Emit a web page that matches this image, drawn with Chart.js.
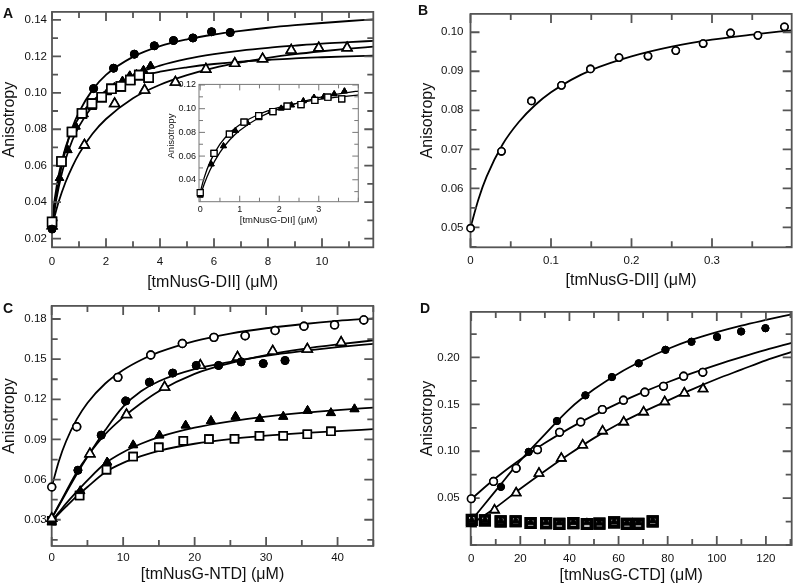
<!DOCTYPE html>
<html>
<head>
<meta charset="utf-8">
<script src="https://cdn.jsdelivr.net/npm/chart.js@4.4.1/dist/chart.umd.min.js"></script>
<style>
  body { margin: 0; background: #fff; }
  #fig { position: relative; width: 796px; height: 588px; background: #fff; overflow: hidden; }
  #fig canvas { position: absolute; }
  .tag { position: absolute; font: bold 14px "Liberation Sans", Arial, sans-serif; line-height: 14px; color: #111; }
</style>
</head>
<body>
<div id="fig">
  <canvas id="cA" width="398" height="294" style="left:0;top:0"></canvas>
  <canvas id="cB" width="398" height="294" style="left:398px;top:0"></canvas>
  <canvas id="cC" width="398" height="294" style="left:0;top:294px"></canvas>
  <canvas id="cD" width="398" height="294" style="left:398px;top:294px"></canvas>
  <canvas id="cIn" width="215" height="160" style="left:150px;top:76px"></canvas>
  <div class="tag" style="left:3px;top:6px">A</div>
  <div class="tag" style="left:418px;top:3px">B</div>
  <div class="tag" style="left:3px;top:301px">C</div>
  <div class="tag" style="left:420px;top:301px">D</div>
</div>
<script>
// ---- panel A (and inset) ----
var aCircX = [0, 1.54, 2.28, 3.05, 3.79, 4.5, 5.22, 5.91, 6.6];
var aCircY = [0.0252, 0.1023, 0.1135, 0.1212, 0.1258, 0.1287, 0.1301, 0.1335, 0.1331];
var aTriX = [0, 0.28, 0.59, 0.89, 1.19, 1.49, 1.79, 2.05, 2.31, 2.61, 2.88, 3.13, 3.39, 3.65];
var aTriY = [0.0268, 0.0532, 0.0685, 0.0814, 0.0882, 0.0922, 0.0976, 0.1003, 0.1030, 0.1065, 0.1094, 0.1102, 0.1124, 0.1148];
var aSqX = [0, 0.35, 0.74, 1.11, 1.48, 1.84, 2.2, 2.55, 2.9, 3.23, 3.58];
var aSqY = [0.0292, 0.0623, 0.0785, 0.0887, 0.0941, 0.0976, 0.1022, 0.1035, 0.1070, 0.1097, 0.1083];
var aOTriX = [0, 1.2, 2.32, 3.43, 4.57, 5.7, 6.77, 7.8, 8.86, 9.88, 10.93];
var aOTriY = [0.027, 0.0713, 0.094, 0.1014, 0.1058, 0.1129, 0.1161, 0.1186, 0.1234, 0.1246, 0.1246];
var aFitX = [0, 0.1, 0.25, 0.5, 0.75, 1, 1.5, 2, 3, 4, 5, 6, 7, 8, 9, 10, 11, 11.9];
var aCircFit = [0.025, 0.037, 0.0518, 0.0686, 0.0808, 0.0894, 0.1016, 0.1098, 0.1197, 0.1256, 0.1293, 0.1320, 0.1340, 0.1357, 0.1371, 0.1383, 0.1394, 0.1403];
var aTriFit = [0.026, 0.0362, 0.0483, 0.0632, 0.0738, 0.0816, 0.0926, 0.0998, 0.1094, 0.1149, 0.1186, 0.1212, 0.1232, 0.1247, 0.1259, 0.1270, 0.1278, 0.1285];
var aSqFit = [0.0294, 0.0416, 0.0551, 0.0700, 0.0797, 0.0865, 0.0955, 0.1011, 0.1078, 0.1116, 0.1140, 0.1158, 0.1171, 0.1180, 0.1189, 0.1195, 0.1200, 0.1204];
var aOTriFit = [0.027, 0.0324, 0.0403, 0.0509, 0.0594, 0.0665, 0.0775, 0.0856, 0.0970, 0.1044, 0.1097, 0.1137, 0.1167, 0.1192, 0.1212, 0.1228, 0.1242, 0.1253];
var aXTicks = [0, 2, 4, 6, 8, 10];
var aYTicks = [0.02, 0.04, 0.06, 0.08, 0.10, 0.12, 0.14];
var inXTicks = [0, 1, 2, 3];
var inYTicks = [0.04, 0.06, 0.08, 0.10, 0.12];

// ---- panel B ----
var bX = [0, 0.0385, 0.0757, 0.113, 0.149, 0.1845, 0.2205, 0.255, 0.289, 0.323, 0.357, 0.390];
var bY = [0.0498, 0.0695, 0.0824, 0.0864, 0.0906, 0.0935, 0.0939, 0.0953, 0.0971, 0.0998, 0.0992, 0.1014];
var bFitX = [0, 0.01, 0.02, 0.04, 0.06, 0.08, 0.1, 0.125, 0.15, 0.2, 0.25, 0.3, 0.35, 0.399];
var bFitY = [0.050, 0.0573, 0.0630, 0.0713, 0.0770, 0.0813, 0.0846, 0.0878, 0.0903, 0.0938, 0.0963, 0.0981, 0.0994, 0.1005];
var bXTicks = [0, 0.1, 0.2, 0.3];
var bYTicks = [0.05, 0.06, 0.07, 0.08, 0.09, 0.10];

// ---- panel C ----
var cOCircX = [0, 3.5, 9.26, 13.86, 18.28, 22.7, 27.07, 31.26, 35.3, 39.58, 43.67];
var cOCircY = [0.0545, 0.0995, 0.1364, 0.1531, 0.1617, 0.1663, 0.1675, 0.1714, 0.1746, 0.1756, 0.1793];
var cFCircX = [3.67, 6.93, 10.37, 13.67, 16.93, 20.23, 23.35, 26.5, 29.6, 32.65];
var cFCircY = [0.067, 0.0932, 0.1188, 0.1328, 0.1396, 0.1453, 0.1453, 0.148, 0.1467, 0.149];
var cOTriX = [0, 5.35, 10.47, 15.8, 20.8, 26, 30.93, 35.77, 40.5];
var cOTriY = [0.031, 0.0792, 0.1085, 0.1291, 0.1453, 0.1514, 0.156, 0.1575, 0.1624];
var cFTriX = [0, 4.0, 7.77, 11.4, 15.07, 18.74, 22.28, 25.72, 29.1, 32.4, 35.8, 39.07, 42.37];
var cFTriY = [0.0285, 0.0515, 0.073, 0.0858, 0.0931, 0.1005, 0.1039, 0.1071, 0.1054, 0.1071, 0.1115, 0.1098, 0.1127];
var cSqX = [0, 3.9, 7.67, 11.4, 14.98, 18.42, 22.0, 25.58, 29.07, 32.4, 35.77, 39.07];
var cSqY = [0.0292, 0.0481, 0.0674, 0.0772, 0.0841, 0.089, 0.0903, 0.0905, 0.0927, 0.0927, 0.0939, 0.0961];
var cFitX = [0, 1, 2, 3.5, 5, 7.5, 10, 12.5, 15, 20, 25, 30, 35, 40, 45];
var cOCircFit = [0.0545, 0.0738, 0.0885, 0.1050, 0.1173, 0.1318, 0.1419, 0.1494, 0.1552, 0.1635, 0.1691, 0.1731, 0.1761, 0.1786, 0.1805];
var cFCircFit = [0.031, 0.0405, 0.050, 0.064, 0.077, 0.097, 0.1145, 0.126, 0.1335, 0.1425, 0.148, 0.1525, 0.156, 0.159, 0.1615];
var cOTriFit = [0.031, 0.041, 0.051, 0.0655, 0.0775, 0.094, 0.1065, 0.117, 0.126, 0.139, 0.147, 0.153, 0.1575, 0.161, 0.164];
var cFTriFit = [0.029, 0.0355, 0.042, 0.051, 0.0595, 0.0722, 0.0805, 0.0868, 0.0918, 0.0988, 0.1035, 0.107, 0.1098, 0.112, 0.1138];
var cSqFit = [0.029, 0.0345, 0.0398, 0.0475, 0.0545, 0.0655, 0.0725, 0.0775, 0.0815, 0.0868, 0.0903, 0.0928, 0.0947, 0.0963, 0.0977];
var cXTicks = [0, 10, 20, 30, 40];
var cYTicks = [0.03, 0.06, 0.09, 0.12, 0.15, 0.18];

// ---- panel D ----
var dFCircX = [12.1, 23.4, 34.9, 46.5, 57.3, 68.2, 79.1, 89.7, 100.1, 109.9, 119.8];
var dFCircY = [0.062, 0.0993, 0.1322, 0.1596, 0.1791, 0.1938, 0.2082, 0.2168, 0.2219, 0.2277, 0.2312];
var dOCircX = [0, 9.1, 18.3, 27, 36, 44.6, 53.4, 62, 70.7, 78.3, 86.5, 94.3];
var dOCircY = [0.0493, 0.0678, 0.0818, 0.1017, 0.1202, 0.1312, 0.1445, 0.1545, 0.163, 0.1692, 0.1801, 0.1842];
var dOTriX = [0, 9.5, 18.3, 27.6, 36.7, 45.4, 53.5, 62.1, 70.2, 78.8, 86.8, 94.4];
var dOTriY = [0.0226, 0.0373, 0.0555, 0.0764, 0.0925, 0.1065, 0.1216, 0.1312, 0.1418, 0.1527, 0.162, 0.1664];
var dSqX = [0.2, 5.6, 12, 18.1, 24.2, 30.5, 35.9, 41.6, 47.1, 52.2, 58.2, 63.4, 68.1, 73.9];
var dSqY = [0.0268, 0.0262, 0.0252, 0.0253, 0.0235, 0.0233, 0.0226, 0.0233, 0.0224, 0.0228, 0.0241, 0.0226, 0.0225, 0.0252];
var dFTriY = [0.0262, 0.0265, 0.0255, 0.0256, 0.0240, 0.0240, 0.0238, 0.0242, 0.0240, 0.0236, 0.0247, 0.0236, 0.0238, 0.0258];
var dFitX = [0, 10, 20, 30, 40, 50, 60, 70, 80, 90, 100, 110, 120, 130.5];
var dFCircFit = [0.026, 0.058, 0.090, 0.118, 0.145, 0.166, 0.183, 0.197, 0.209, 0.219, 0.227, 0.234, 0.240, 0.246];
var dOCircFit = [0.049, 0.0714, 0.0911, 0.1087, 0.1244, 0.1385, 0.1513, 0.1630, 0.1736, 0.1833, 0.1922, 0.2004, 0.2081, 0.2155];
var dOTriFit = [0.022, 0.040, 0.060, 0.079, 0.097, 0.114, 0.129, 0.142, 0.154, 0.166, 0.177, 0.187, 0.197, 0.206];
var dXTicks = [0, 20, 40, 60, 80, 100, 120];
var dYTicks = [0.05, 0.10, 0.15, 0.20];

var FONT = '"Liberation Sans", Arial, Helvetica, sans-serif';
var INK = '#111';

function pts(xs, ys) {
  return xs.map(function(x, i) { return { x: x, y: ys[i] }; });
}

// marker datasets (drawn on top of the fitted curves)
function marks(xs, ys, style, r, bw) {
  var filled = style === 'fcirc' || style === 'ftri';
  return {
    data: pts(xs, ys),
    showLine: false,
    order: 0,
    pointStyle: style.indexOf('circ') >= 0 ? 'circle' : (style.indexOf('tri') >= 0 ? 'triangle' : 'rect'),
    pointRadius: r,
    pointHoverRadius: r,
    pointBackgroundColor: filled ? '#000' : '#fff',
    pointBorderColor: '#000',
    pointBorderWidth: bw || 1.6
  };
}

function fit(xs, ys, w) {
  return {
    data: pts(xs, ys),
    showLine: true,
    order: 1,
    pointRadius: 0,
    borderColor: '#000',
    borderWidth: w || 1.8,
    cubicInterpolationMode: 'monotone'
  };
}

// box frame with inward ticks on all four sides; markers are re-drawn over it
function makeFrame(o) {
  function paint(chart) {
    var a = chart.chartArea, c = chart.ctx;
    var sx = chart.scales.x, sy = chart.scales.y;
    c.save();
    c.strokeStyle = o.color;
    c.lineWidth = o.width;
    c.beginPath();
    function walk(s, step, vals, fn) {
      var n0 = Math.ceil(s.min / step - 1e-6), n1 = Math.floor(s.max / step + 1e-6);
      for (var n = n0; n <= n1; n++) {
        var v = n * step;
        var major = vals.some(function(t) { return Math.abs(t - v) < step / 10; });
        fn(s.getPixelForValue(v), major ? o.major : o.minor);
      }
    }
    walk(sx, o.xStep, o.xTicks, function(p, len) {
      c.moveTo(p, a.bottom); c.lineTo(p, a.bottom - len);
      c.moveTo(p, a.top); c.lineTo(p, a.top + len);
    });
    walk(sy, o.yStep, o.yTicks, function(p, len) {
      c.moveTo(a.left, p); c.lineTo(a.left + len, p);
      c.moveTo(a.right, p); c.lineTo(a.right - len, p);
    });
    c.stroke();
    c.strokeRect(a.left, a.top, a.right - a.left, a.bottom - a.top);
    c.restore();
  }
  return {
    id: 'boxframe',
    beforeDraw: function(chart) {
      var a = chart.chartArea, c = chart.ctx;
      c.save();
      c.fillStyle = '#fff';
      c.fillRect(a.left, a.top, a.right - a.left, a.bottom - a.top);
      c.restore();
    },
    afterDraw: function(chart) {
      paint(chart);
      // same stacking as Chart.js: last dataset first, first dataset on top
      for (var i = chart.data.datasets.length - 1; i >= 0; i--) {
        if (chart.data.datasets[i].showLine === false) chart.getDatasetMeta(i).controller.draw();
      }
    }
  };
}

function makeChart(id, p) {
  var fr = makeFrame({
    color: p.frameColor || '#555', width: p.frameWidth || 1.8,
    major: p.major || 9, minor: p.minor || 6,
    xStep: p.xStep, yStep: p.yStep, xTicks: p.xTicks, yTicks: p.yTicks
  });
  return new Chart(document.getElementById(id), {
    type: 'scatter',
    data: { datasets: p.datasets },
    plugins: [fr],
    options: {
      responsive: false,
      animation: false,
      devicePixelRatio: 1,
      events: [],
      layout: { autoPadding: false, padding: { top: p.top, right: p.right, bottom: 0, left: 0 } },
      plugins: {
        legend: { display: false },
        tooltip: { enabled: false }
      },
      scales: {
        x: {
          type: 'linear',
          min: p.xMin, max: p.xMax,
          grid: { display: false, drawTicks: false },
          border: { display: false },
          afterBuildTicks: function(s) { s.ticks = p.xTicks.map(function(v) { return { value: v }; }); },
          afterFit: function(s) { s.height = p.xH; },
          ticks: {
            autoSkip: false, maxRotation: 0, padding: p.xPad, color: INK,
            font: { family: FONT, size: p.tickSize },
            callback: function(v) { return p.xFmt(v); }
          },
          title: {
            display: true, text: p.xTitle, color: INK,
            font: { family: FONT, size: p.titleSize },
            padding: { top: 0, bottom: p.xTitlePad }
          }
        },
        y: {
          type: 'linear',
          min: p.yMin, max: p.yMax,
          grid: { display: false, drawTicks: false },
          border: { display: false },
          afterBuildTicks: function(s) { s.ticks = p.yTicks.map(function(v) { return { value: v }; }); },
          afterFit: function(s) {
            s.width = p.yW;
            if (!s._shifted) {
              var orig = s.drawTitle;
              s.drawTitle = function() {
                this.ctx.save();
                this.ctx.translate(0, -p.yShift);
                orig.apply(this, arguments);
                this.ctx.restore();
              };
              s._shifted = true;
            }
          },
          ticks: {
            autoSkip: false, padding: p.yPad, color: INK,
            font: { family: FONT, size: p.tickSize },
            callback: function(v) { return v.toFixed(2); }
          },
          title: {
            display: true, text: 'Anisotropy', color: INK,
            font: { family: FONT, size: p.titleSize },
            padding: { top: p.yTitlePad, bottom: 0 }
          }
        }
      }
    }
  });
}

function intFmt(v) { return String(Math.round(v)); }

makeChart('cA', {
  datasets: [
    marks(aCircX, aCircY, 'fcirc', 4, 1),
    marks(aSqX, aSqY, 'sq', 6.3),
    marks(aTriX, aTriY, 'ftri', 4.8, 1),
    marks(aOTriX, aOTriY, 'otri', 5.6),
    fit(aFitX, aCircFit), fit(aFitX, aTriFit), fit(aFitX, aSqFit), fit(aFitX, aOTriFit)
  ],
  xMin: 0, xMax: 11.9, yMin: 0.0152, yMax: 0.1444,
  xTicks: aXTicks, yTicks: aYTicks, xStep: 1, yStep: 0.01, xFmt: intFmt,
  top: 4, right: 24.7, yW: 52, xH: 46.7,
  tickSize: 11.5, titleSize: 16, xPad: 7.5, yPad: 5, xTitlePad: 1.4, yTitlePad: 0.4, yShift: 10,
  xTitle: '[tmNusG-DII] (\u03BCM)'
});

makeChart('cIn', {
  datasets: [
    marks(aSqX, aSqY, 'sq', 4.3, 1.2),
    marks(aTriX, aTriY, 'ftri', 3.4, 1),
    fit(aFitX, aTriFit, 1.3), fit(aFitX, aSqFit, 1.3)
  ],
  xMin: -0.03, xMax: 4.0, yMin: 0.0215, yMax: 0.1205,
  xTicks: inXTicks, yTicks: inYTicks, xStep: 0.5, yStep: 0.01, xFmt: intFmt,
  top: 4, right: 6.7, yW: 49, xH: 34.3,
  tickSize: 9, titleSize: 9.5, xPad: 2.5, yPad: 3, xTitlePad: 9.5, yTitlePad: 15.3, yShift: 7,
  frameColor: '#777', frameWidth: 1, major: 6, minor: 4,
  xTitle: '[tmNusG-DII] (\u03BCM)'
});

makeChart('cB', {
  datasets: [
    marks(bX, bY, 'ocirc', 3.6),
    fit(bFitX, bFitY)
  ],
  xMin: 0, xMax: 0.399, yMin: 0.0449, yMax: 0.1047,
  xTicks: bXTicks, yTicks: bYTicks, xStep: 0.05, yStep: 0.005,
  xFmt: function(v) { return v === 0 ? '0' : v.toFixed(1); },
  top: 3.3, right: 4.3, yW: 72.5, xH: 46.7,
  tickSize: 11.5, titleSize: 16, xPad: 6.7, yPad: 7, xTitlePad: 3.7, yTitlePad: 19.9, yShift: 10,
  xTitle: '[tmNusG-DII] (\u03BCM)'
});

makeChart('cC', {
  datasets: [
    marks(cOCircX, cOCircY, 'ocirc', 3.9),
    marks(cFCircX, cFCircY, 'fcirc', 4, 1),
    marks(cOTriX, cOTriY, 'otri', 5.6),
    marks(cFTriX, cFTriY, 'ftri', 5.2, 1),
    marks(cSqX, cSqY, 'sq', 5.6),
    fit(cFitX, cOCircFit), fit(cFitX, cFCircFit), fit(cFitX, cOTriFit), fit(cFitX, cFTriFit), fit(cFitX, cSqFit)
  ],
  xMin: 0, xMax: 45, yMin: 0.0104, yMax: 0.1898,
  xTicks: cXTicks, yTicks: cYTicks, xStep: 5, yStep: 0.015, xFmt: intFmt,
  top: 7.7, right: 24.7, yW: 51.7, xH: 42,
  tickSize: 11.5, titleSize: 16, xPad: 4.7, yPad: 5, xTitlePad: 3.9, yTitlePad: 0, yShift: 10,
  xTitle: '[tmNusG-NTD] (\u03BCM)'
});

makeChart('cD', {
  datasets: [
    marks(dSqX, dFTriY, 'ftri', 4.6, 1),
    marks(dSqX, dSqY, 'sq', 6.2, 3.4),
    marks(dFCircX, dFCircY, 'fcirc', 3.6, 1),
    marks(dOCircX, dOCircY, 'ocirc', 3.8),
    marks(dOTriX, dOTriY, 'otri', 5.2),
    fit(dFitX, dFCircFit), fit(dFitX, dOCircFit), fit(dFitX, dOTriFit)
  ],
  xMin: -0.2, xMax: 130.5, yMin: 0, yMax: 0.2486,
  xTicks: dXTicks, yTicks: dYTicks, xStep: 10, yStep: 0.025, xFmt: intFmt,
  top: 9.3, right: 4.3, yW: 72.7, xH: 43,
  tickSize: 11.5, titleSize: 16, xPad: 7.3, yPad: 11, xTitlePad: 2.9, yTitlePad: 19.9, yShift: 10,
  xTitle: '[tmNusG-CTD] (\u03BCM)'
});
</script>
</body>
</html>
